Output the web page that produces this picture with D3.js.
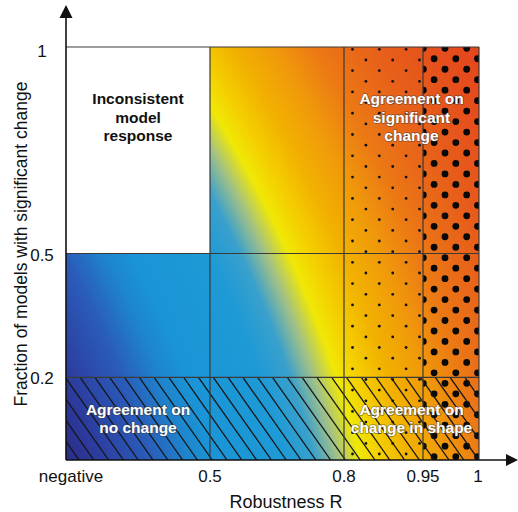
<!DOCTYPE html>
<html>
<head>
<meta charset="utf-8">
<script src="https://cdn.jsdelivr.net/npm/d3@7"></script>
<style>
  body { margin: 0; background: #fff; }
  svg { display: block; font-family: "Liberation Sans", Arial, Helvetica, sans-serif; }
</style>
</head>
<body>
<svg id="chart" width="518" height="512"></svg>
<script>
// ---- data -------------------------------------------------------------
// Robustness R bin edges (0 stands for the "negative" end of the axis)
const robustnessEdges  = [0, 0.5, 0.8, 0.95, 1];
const robustnessLabels = ["negative", "0.5", "0.8", "0.95", "1"];

// Fraction of models with significant change
const fractionTicks  = [0.2, 0.5, 1];
const fractionLabels = ["0.2", "0.5", "1"];

// Interpretation zones: text, robustness span, fraction position of the label
const zoneLines = [
  ["Inconsistent", "model", "response"],
  ["Agreement on", "significant", "change"],
  ["Agreement on", "no change"],
  ["Agreement on", "change in shape"]
];
const zoneRobustness = [[0, 0.5], [0.8, 1], [0, 0.5], [0.8, 1]];
const zoneFraction   = [0.83, 0.83, 0.1, 0.1];
const zoneDark       = [true, false, false, false];

// White cell: low robustness, high fraction of significant change
const inconsistentCell = { r: [0, 0.5], f: [0.5, 1] };
// Hatched band: few models with significant change
const noChangeBand = [0, 0.2];
// Stippled columns
const fineDotSpan   = [0.8, 0.95];
const coarseDotSpan = [0.95, 1];

// ---- layout -----------------------------------------------------------
const svg = d3.select("#chart");
const L = 66, R = 479, T = 47, B = 460;

const x = d3.scaleLinear().domain(robustnessEdges).range([L, 210, 344, 423, R]);
const y = d3.scaleLinear().domain([0, 1]).range([B, T]);

const defs = svg.append("defs");

// colour field: blue -> yellow -> red, curved isolines around a far focus
const cx = L - 910.5, cy = B + 301.8, rad = 1510;
const fieldStops = [
  [955, "#2b2a86"], [990, "#2c3c9e"], [1040, "#2a5cba"], [1075, "#1e84cc"],
  [1100, "#1a94d6"], [1170, "#1e9ad6"], [1198, "#3aa0cc"], [1220, "#a0c088"],
  [1242, "#f0e806"], [1262, "#f4d000"], [1290, "#f2b200"], [1325, "#f09a0a"],
  [1360, "#ec7a14"], [1390, "#e96a18"], [1420, "#e75e1a"], [1460, "#e6501c"],
  [1510, "#e4441c"]
];
const grad = defs.append("radialGradient")
  .attr("id", "field").attr("gradientUnits", "userSpaceOnUse")
  .attr("cx", cx).attr("cy", cy).attr("fx", cx).attr("fy", cy).attr("r", rad);
grad.selectAll("stop").data(fieldStops).join("stop")
  .attr("offset", d => d[0] / rad)
  .attr("stop-color", d => d[1]);

function clipRect(id, x0, y0, x1, y1) {
  defs.append("clipPath").attr("id", id).append("rect")
    .attr("x", x0).attr("y", y0).attr("width", x1 - x0).attr("height", y1 - y0);
}
clipRect("clipFine", x(fineDotSpan[0]), T, x(fineDotSpan[1]), B);
clipRect("clipCoarse", x(coarseDotSpan[0]), T, x(coarseDotSpan[1]), B);
clipRect("clipHatch", L, y(noChangeBand[1]), R, y(noChangeBand[0]));

// background field
svg.append("rect")
  .attr("x", L).attr("y", T).attr("width", R - L).attr("height", B - T)
  .attr("fill", "url(#field)");

// white cell
svg.append("rect")
  .attr("x", x(inconsistentCell.r[0])).attr("y", y(inconsistentCell.f[1]))
  .attr("width", x(inconsistentCell.r[1]) - x(inconsistentCell.r[0]))
  .attr("height", y(inconsistentCell.f[0]) - y(inconsistentCell.f[1]))
  .attr("fill", "#fff");

// fine stipple
const fine = [];
for (let i = 0; i < 7; i++) {
  for (let j = -1; j < 22; j++) {
    fine.push([x(fineDotSpan[0]) + 8.5 + 13.4 * i, T + 2.3 + (i % 2 ? 10.7 : 0) + 21.3 * j]);
  }
}
svg.append("g").attr("clip-path", "url(#clipFine)")
  .selectAll("circle").data(fine).join("circle")
  .attr("cx", d => d[0]).attr("cy", d => d[1]).attr("r", 1.4).attr("fill", "#111");

// coarse stipple
const coarse = [];
for (let j = 0; j < 41; j++) {
  for (let i = -1; i < 4; i++) {
    coarse.push([x(coarseDotSpan[0]) + 0.3 + (j % 2 ? 10.8 : 0) + 21.7 * i, T + 1.3 + 10.47 * j]);
  }
}
svg.append("g").attr("clip-path", "url(#clipCoarse)")
  .selectAll("circle").data(coarse).join("circle")
  .attr("cx", d => d[0]).attr("cy", d => d[1]).attr("r", 3.4).attr("fill", "#080808");

// hatching of the no-change band
const hTop = y(noChangeBand[1]), hBot = y(noChangeBand[0]);
const slope = 0.704;
const hatch = d3.range(-14, 30).map(k => 213.3 + 14.8 * k);
svg.append("g").attr("clip-path", "url(#clipHatch)")
  .selectAll("line").data(hatch).join("line")
  .attr("x1", d => d).attr("y1", hTop)
  .attr("x2", d => d + slope * (hBot - hTop)).attr("y2", hBot)
  .attr("stroke", "#161616").attr("stroke-width", 1.3);

// grid
const grid = svg.append("g").attr("stroke", "#3a3a3a").attr("stroke-width", 1.2).attr("fill", "none");
robustnessEdges.slice(1).forEach(v => {
  grid.append("line").attr("x1", x(v)).attr("x2", x(v)).attr("y1", T).attr("y2", B);
});
fractionTicks.forEach(v => {
  grid.append("line").attr("x1", L).attr("x2", R).attr("y1", y(v)).attr("y2", y(v));
});

// zone labels
zoneLines.forEach((lines, i) => {
  const mx = (x(zoneRobustness[i][0]) + x(zoneRobustness[i][1])) / 2;
  const my = y(zoneFraction[i]);
  const lh = lines.length === 3 ? 18.7 : 18.2;
  const t = svg.append("text")
    .attr("text-anchor", "middle")
    .attr("font-size", 15.5).attr("font-weight", "bold")
    .attr("fill", zoneDark[i] ? "#111" : "#fff")
    .attr("stroke", zoneDark[i] ? "none" : "rgba(60,60,60,0.55)")
    .attr("stroke-width", 1.6).attr("paint-order", "stroke")
    .attr("stroke-linejoin", "round");
  lines.forEach((s, k) => {
    t.append("tspan").attr("x", mx)
      .attr("y", my + 5.5 + (k - (lines.length - 1) / 2) * lh)
      .text(s);
  });
});

// axes with arrow heads
const axes = svg.append("g");
axes.append("line").attr("x1", L).attr("y1", B).attr("x2", L).attr("y2", 16)
  .attr("stroke", "#111").attr("stroke-width", 1.6);
axes.append("path").attr("d", `M${L},5 L${L - 6.5},18 L${L + 6.5},18 Z`).attr("fill", "#111");
axes.append("line").attr("x1", L).attr("y1", B).attr("x2", 508).attr("y2", B)
  .attr("stroke", "#111").attr("stroke-width", 1.6);
axes.append("path").attr("d", `M518,${B} L506,${B - 6} L506,${B + 6} Z`).attr("fill", "#111");

// x tick labels
svg.append("g").selectAll("text").data(robustnessEdges).join("text")
  .attr("x", (d, i) => x(d) + (i === 0 ? 5 : (i === robustnessEdges.length - 1 ? -1 : 0)))
  .attr("y", 482)
  .attr("text-anchor", "middle").attr("font-size", 17).attr("fill", "#111")
  .text((d, i) => robustnessLabels[i]);

// y tick labels
svg.append("g").selectAll("text").data(fractionTicks).join("text")
  .attr("x", 42)
  .attr("y", d => y(d) + (d === 1 ? 10 : 7))
  .attr("text-anchor", "middle").attr("font-size", 17).attr("fill", "#111")
  .text((d, i) => fractionLabels[i]);

// axis titles
svg.append("text").attr("x", 286).attr("y", 508)
  .attr("text-anchor", "middle").attr("font-size", 18).attr("fill", "#111")
  .text("Robustness R");
svg.append("text")
  .attr("transform", "translate(27,244) rotate(-90)")
  .attr("text-anchor", "middle").attr("font-size", 17.5).attr("fill", "#111")
  .text("Fraction of models with significant change");
</script>
</body>
</html>
